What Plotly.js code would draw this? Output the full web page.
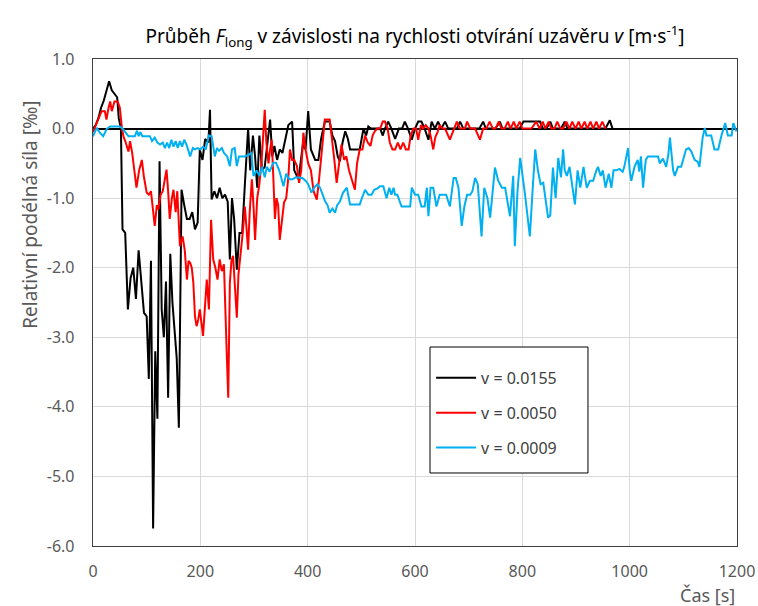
<!DOCTYPE html>
<html>
<head>
<meta charset="utf-8">
<script src="https://cdn.plot.ly/plotly-3.0.1.min.js"></script>
<style>
  html, body { margin: 0; padding: 0; background: #ffffff; }
  #chart { width: 758px; height: 606px; }
</style>
</head>
<body>
<div id="chart"></div>
<script>
// Time [s] and relative longitudinal force [‰] for each valve opening speed
const tBlack = [0,5,10,15,20,25,30,35,40,45,48,52,55,60,65,70,75,80,85,90,95,100,104,108,112,116,120,124,128,132,136,140,144,148,152,156,160,165,170,175,180,185,190,195,199,204,209,215,218,221,226,231,236,241,246,251,255,259,263,268,273,278,283,289,293,298,302,306,310,315,320,326,330,334,338,343,348,353,358,364,371,375,383,386,391,396,401,406,414,420,425,432,441,446,451,456,460,465,470,475,479,488,497,504,509,513,518,522,528,535,540,544,550,556,563,570,576,581,587,594,600,606,612,618,625,631,637,643,649,656,662,670,678,684,690,700,710,720,727,732,740,750,758,763,775,785,795,802,810,820,833,838,845,852,857,865,872,879,884,895,910,925,940,955,963,968];
const vBlack = [0.0,0.05,0.15,0.3,0.4,0.55,0.68,0.55,0.5,0.45,0.15,0.0,-1.45,-1.5,-2.6,-2.15,-2.0,-2.45,-1.75,-2.2,-2.65,-2.7,-3.6,-1.9,-5.75,-3.2,-4.17,-0.47,-2.6,-3.0,-2.2,-3.87,-1.8,-2.5,-2.9,-3.3,-4.3,-0.88,-1.1,-1.3,-1.3,-1.2,-1.45,-1.35,-0.3,-0.45,-0.15,-0.2,0.27,-1.02,-0.9,-1.0,-0.85,-1.0,-0.95,-1.05,-1.88,-1.0,-1.3,-2.03,-1.5,-1.5,-0.8,0.0,-0.6,-0.1,-0.4,-0.85,-0.1,-0.6,-0.55,-0.15,0.13,-0.4,-0.25,-0.45,-0.3,-0.35,-0.15,0.05,0.1,-0.6,-0.73,-0.52,-0.23,-0.3,0.25,-0.3,-0.45,-0.45,-0.15,0.1,0.1,-0.1,-0.18,-0.4,-0.47,-0.2,-0.04,-0.15,-0.3,-0.3,-0.3,0.0,-0.1,0.03,0.0,0.0,0.0,0.0,-0.1,0.0,0.1,0.0,-0.15,0.0,0.0,0.1,0.0,-0.16,0.0,0.1,0.1,0.0,-0.16,0.1,0.0,0.1,0.0,0.1,0.0,0.0,0.0,0.1,0.0,0.0,0.0,0.0,0.1,0.0,0.0,0.0,0.1,0.0,0.0,0.0,0.0,0.1,0.1,0.1,0.1,0.0,0.0,0.1,0.0,0.0,0.0,0.1,0.0,0.0,0.0,0.0,0.0,0.0,0.12,0.0];

const tRed = [0,5,10,16,22,25,29,32,35,40,46,50,54,57,61,66,69,73,77,81,86,91,95,100,104,108,115,119,122,126,130,134,137,140,143,147,150,154,157,162,167,171,175,178,181,184,187,190,193,196,199,205,208,212,216,220,224,228,232,236,240,244,249,252,255,258,261,265,268,271,275,279,283,286,289,292,296,299,302,306,310,314,317,320,323,327,330,333,336,339,342,345,348,352,356,360,364,367,371,375,380,384,388,392,396,401,406,411,417,421,425,429,432,441,445,449,454,458,463,468,472,477,483,488,492,497,502,507,512,517,521,525,530,535,540,544,549,553,558,563,568,573,578,583,588,592,597,602,606,611,615,620,625,629,634,638,642,646,651,656,665,670,678,684,693,697,703,712,721,727,733,739,745,750,756,761,767,773,778,784,789,795,800,806,817,826,832,838,843,849,854,860,865,871,876,882,888,893,899,905,910,916,921,927,932,938,943,949,955];
const vRed = [-0.05,0.05,0.13,0.25,0.25,0.13,0.3,0.39,0.25,0.39,0.39,0.3,0.0,-0.12,-0.2,-0.33,-0.18,-0.35,-0.6,-0.85,-0.6,-0.45,-0.7,-0.92,-0.95,-0.9,-1.4,-1.1,-1.16,-0.95,-0.9,-0.7,-0.59,-0.9,-1.3,-1.0,-0.88,-1.2,-0.9,-1.69,-1.55,-1.75,-2.17,-1.9,-1.93,-2.0,-2.22,-2.7,-2.84,-2.75,-2.6,-2.98,-2.55,-2.17,-2.6,-1.31,-1.88,-2.0,-2.17,-1.88,-2.05,-1.95,-3.18,-3.87,-2.22,-1.9,-1.83,-2.4,-2.72,-2.1,-1.83,-1.5,-1.12,-1.5,-1.74,-1.2,-0.73,-1.1,-1.6,-1.0,-0.8,-0.49,-0.1,0.27,-0.2,-0.5,-0.3,-0.16,-0.7,-1.3,-1.0,-1.1,-1.6,-1.3,-1.06,-1.0,-0.7,-0.3,-0.45,-0.45,-0.54,-0.78,-0.6,-0.06,-0.3,-0.5,-0.6,-0.9,-1.02,-0.75,-0.4,-0.1,0.13,0.13,-0.1,-0.4,-0.78,-0.5,-0.23,-0.45,-0.4,-0.6,-0.75,-0.88,-0.5,-0.3,-0.3,-0.1,-0.2,-0.25,-0.1,-0.04,0.0,0.0,0.1,0.1,0.0,-0.2,-0.3,-0.3,-0.2,-0.3,-0.2,-0.3,-0.3,-0.1,0.0,0.0,-0.16,0.05,0.0,0.05,0.0,-0.1,-0.3,-0.12,-0.05,0.05,0.0,0.0,-0.16,-0.05,0.1,0.0,0.0,0.1,0.0,0.0,-0.16,0.0,0.0,0.1,0.0,0.0,0.1,0.0,0.0,0.1,0.0,0.1,0.0,0.1,0.0,0.0,0.0,0.1,0.0,0.1,0.0,0.1,0.0,0.0,0.1,0.0,0.0,0.1,0.0,0.1,0.0,0.1,0.0,0.1,0.0,0.1,0.0,0.1,0.0,0.1,0.0];

const tBlue = [0,4,7,12,19,26,32,40,50,55,60,66,72,78,82,85,88,92,97,106,110,115,120,125,130,134,138,142,146,150,154,158,162,166,170,175,181,186,190,195,200,205,210,216,221,227,231,235,240,244,250,255,259,264,268,272,277,283,289,295,299,305,310,315,320,324,329,336,341,347,355,360,366,372,378,384,390,396,401,407,412,418,423,428,432,437,441,446,451,455,460,466,473,479,488,497,502,507,513,519,524,530,535,541,547,552,556,560,563,567,575,584,591,594,600,606,612,618,622,625,629,634,640,646,652,658,665,672,676,681,687,692,697,703,707,712,717,724,729,735,740,749,755,762,768,777,783,786,791,796,805,814,819,824,829,834,839,848,852,857,862,867,872,876,879,883,888,893,898,903,908,914,920,926,932,938,941,946,950,955,961,966,970,975,981,987,990,997,1000,1003,1009,1015,1018,1021,1025,1030,1034,1040,1047,1053,1056,1062,1068,1072,1075,1081,1084,1090,1096,1100,1105,1110,1115,1121,1127,1130,1136,1140,1143,1152,1158,1165,1171,1178,1183,1190,1193,1199];
const vBlue = [-0.11,-0.05,0.01,-0.05,-0.11,0.0,0.03,0.03,0.03,0.0,-0.05,-0.11,-0.11,-0.11,-0.03,-0.11,-0.05,-0.11,-0.11,-0.11,-0.18,-0.13,-0.2,-0.23,-0.2,-0.28,-0.2,-0.28,-0.16,-0.26,-0.18,-0.28,-0.18,-0.26,-0.16,-0.25,-0.4,-0.28,-0.3,-0.28,-0.3,-0.26,-0.3,-0.1,-0.11,-0.4,-0.28,-0.32,-0.28,-0.35,-0.4,-0.54,-0.3,-0.28,-0.54,-0.4,-0.4,-0.4,-0.38,-0.35,-0.68,-0.6,-0.68,-0.55,-0.7,-0.55,-0.62,-0.49,-0.49,-0.6,-0.83,-0.65,-0.73,-0.73,-0.7,-0.71,-0.71,-0.75,-0.8,-0.92,-0.85,-0.8,-0.85,-0.95,-1.04,-1.1,-1.21,-1.15,-1.21,-1.1,-1.05,-0.92,-0.85,-1.09,-1.09,-1.09,-0.98,-0.88,-0.95,-0.95,-0.88,-0.86,-0.83,-0.83,-1.0,-0.85,-0.95,-0.85,-0.95,-0.95,-1.12,-1.12,-1.12,-0.85,-0.95,-0.95,-1.12,-1.12,-0.85,-1.26,-0.85,-0.85,-1.12,-0.95,-0.95,-0.95,-1.12,-0.71,-0.71,-0.85,-1.4,-1.12,-0.95,-0.95,-0.9,-0.71,-0.8,-1.55,-0.85,-1.0,-1.28,-0.56,-0.75,-0.85,-0.85,-1.26,-0.68,-1.69,-0.9,-0.42,-0.95,-1.55,-0.9,-0.3,-0.6,-0.8,-0.78,-1.28,-1.25,-0.56,-1.0,-0.42,-0.7,-0.3,-0.6,-0.68,-0.55,-0.85,-1.09,-0.6,-0.85,-0.55,-0.85,-0.75,-0.75,-0.6,-0.55,-0.68,-0.6,-0.85,-0.65,-0.85,-0.6,-0.6,-0.58,-0.62,-0.55,-0.28,-0.6,-0.75,-0.55,-0.45,-0.62,-0.4,-0.85,-0.45,-0.4,-0.4,-0.4,-0.4,-0.5,-0.43,-0.55,-0.38,-0.13,-0.6,-0.68,-0.55,-0.55,-0.45,-0.3,-0.28,-0.33,-0.45,-0.48,-0.55,-0.13,0.01,-0.1,-0.1,-0.3,-0.3,-0.1,0.08,-0.1,-0.1,0.08,-0.04];

const seriesNames = ["v = 0.0155", "v = 0.0050", "v = 0.0009"];
const seriesColors = ["#000000", "#ff0000", "#00b0f0"];
const xTicks = [0, 200, 400, 600, 800, 1000, 1200];
const yTicks = [1, 0, -1, -2, -3, -4, -5, -6];

const FONT = "'Noto Sans', 'Open Sans', sans-serif";
const GREY = "#595959";

const xs = [tBlack, tRed, tBlue];
const ys = [vBlack, vRed, vBlue];
const traces = xs.map((x, i) => ({
  type: "scatter",
  mode: "lines",
  x: x,
  y: ys[i],
  name: seriesNames[i],
  legendgroup: "g" + i,
  line: { color: seriesColors[i], width: 2 },
  hoverinfo: "x+y+name"
}));

const layout = {
  width: 758,
  height: 606,
  margin: { l: 93, r: 21, t: 59, b: 60, pad: 0 },
  paper_bgcolor: "#ffffff",
  plot_bgcolor: "#ffffff",
  font: { family: FONT, color: GREY, size: 16 },
  title: {
    text: "Průběh <i>F</i><sub>long</sub> v závislosti na rychlosti otvírání uzávěru <i>v</i> [m·s<sup>-1</sup>]",
    font: { family: FONT, size: 19, color: "#000000" },
    xref: "paper", x: 0.5, xanchor: "center",
    yref: "container", y: 0.94, yanchor: "middle"
  },
  xaxis: {
    range: [0, 1200],
    tickvals: xTicks,
    ticktext: xTicks.map(String),
    showgrid: true,
    gridcolor: "#d9d9d9",
    gridwidth: 1,
    zeroline: false,
    showline: true,
    linecolor: "#404040",
    linewidth: 1.3,
    mirror: true,
    ticks: "",
    ticklabelstandoff: 10,
    tickfont: { family: FONT, size: 16, color: GREY }
  },
  yaxis: {
    range: [-6, 1],
    tickvals: yTicks,
    ticktext: yTicks.map(v => v.toFixed(1)),
    showgrid: true,
    gridcolor: "#d9d9d9",
    gridwidth: 1,
    zeroline: true,
    zerolinecolor: "#000000",
    zerolinewidth: 2,
    showline: true,
    linecolor: "#404040",
    linewidth: 1.3,
    mirror: true,
    ticks: "",
    ticklabelstandoff: 14,
    tickfont: { family: FONT, size: 16, color: GREY }
  },
  showlegend: true,
  legend: {
    x: 0.525, xanchor: "left",
    y: 0.38, yanchor: "top",
    bgcolor: "rgba(0,0,0,0)",
    borderwidth: 0,
    traceorder: "grouped",
    tracegroupgap: 11,
    itemwidth: 40,
    font: { family: FONT, size: 16, color: "#404040" }
  },
  shapes: [
    {
      // frame around the legend
      type: "rect",
      xref: "paper", yref: "paper",
      x0: 0.5233, x1: 0.7686, y0: 0.1499, y1: 0.4086,
      line: { color: "#000000", width: 1 },
      fillcolor: "#ffffff",
      layer: "above"
    }
  ],
  annotations: [
    {
      text: "Relativní podélná síla [‰]",
      xref: "paper", yref: "paper",
      x: -0.098, y: 0.68,
      xanchor: "center", yanchor: "middle",
      textangle: -90,
      showarrow: false,
      font: { family: FONT, size: 19, color: GREY }
    },
    {
      text: "Čas [s]",
      xref: "paper", yref: "paper",
      x: 1.0, y: -0.1,
      xanchor: "right", yanchor: "middle",
      showarrow: false,
      font: { family: FONT, size: 18, color: GREY }
    }
  ]
};

Plotly.newPlot("chart", traces, layout, { displayModeBar: false, staticPlot: true });
</script>
</body>
</html>
